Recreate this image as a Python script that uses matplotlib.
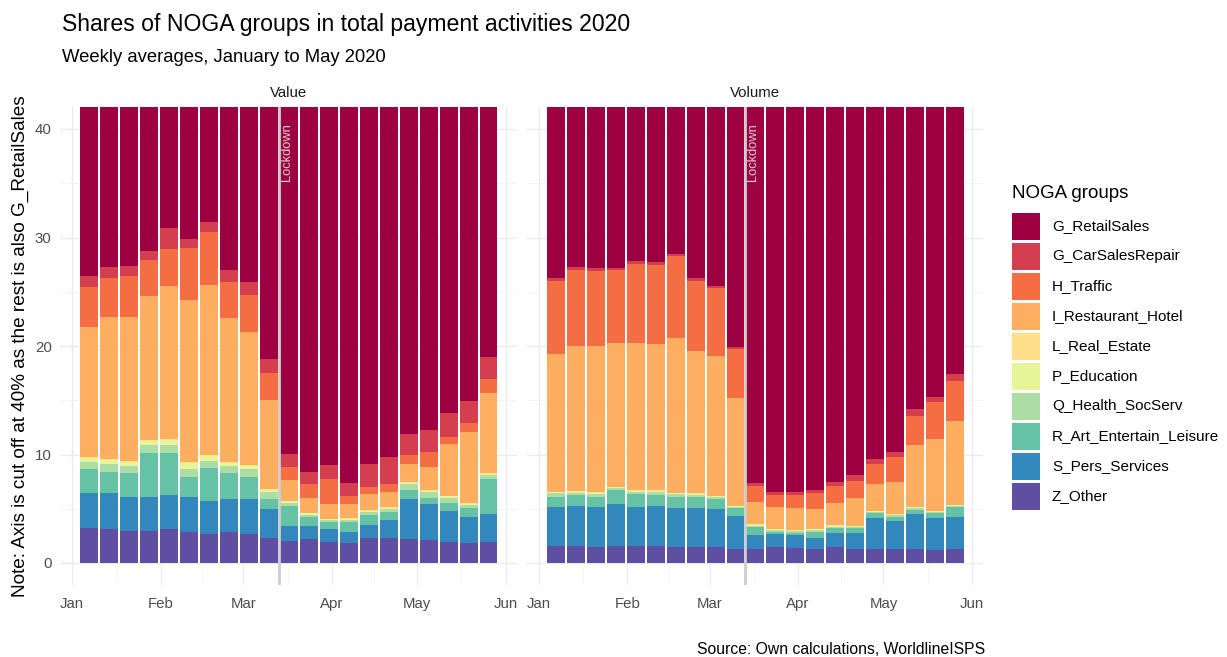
import numpy as np
import matplotlib
matplotlib.use("Agg")
import matplotlib.pyplot as plt
import matplotlib.dates as mdates
from matplotlib.patches import Rectangle
import datetime as dt

plt.rcParams['font.family'] = ['Liberation Sans', 'DejaVu Sans']

# ---------------- data ----------------
groups = ["G_RetailSales", "G_CarSalesRepair", "H_Traffic", "I_Restaurant_Hotel",
          "L_Real_Estate", "P_Education", "Q_Health_SocServ", "R_Art_Entertain_Leisure",
          "S_Pers_Services", "Z_Other"]
colors = ["#9E0142", "#D53E4F", "#F46D43", "#FDAE61", "#FEE08B",
          "#E6F598", "#ABDDA4", "#66C2A5", "#3288BD", "#5E4FA2"]

n_weeks = 21
weeks = [dt.date(2020, 1, 7) + dt.timedelta(days=7 * i) for i in range(n_weeks)]

# Value shares (%)
value_Z = [3.2, 3.1, 2.98, 2.98, 3.1, 2.88, 2.67, 2.88, 2.64, 2.27, 2.06,
           2.18, 1.96, 1.81, 2.28, 2.28, 2.18, 2.12, 1.96, 1.81, 1.96]
value_S = [3.28, 3.38, 3.13, 3.13, 3.14, 3.23, 3.0, 3.02, 3.26, 2.67, 1.35,
           1.23, 1.17, 1.08, 1.19, 1.68, 3.69, 3.29, 2.83, 2.46, 2.56]
value_R = [2.15, 1.91, 2.16, 3.99, 3.9, 1.84, 3.06, 2.37, 2.0, 0.96, 1.87,
           0.86, 0.62, 0.92, 0.95, 0.77, 0.86, 0.61, 0.71, 0.77, 3.19]
value_Q = [0.65, 0.71, 0.67, 0.76, 0.76, 0.71, 0.7, 0.67, 0.76, 0.6, 0.28,
           0.18, 0.21, 0.15, 0.28, 0.25, 0.52, 0.5, 0.52, 0.31, 0.4]
value_P = [0.36, 0.36, 0.39, 0.36, 0.4, 0.52, 0.45, 0.3, 0.24, 0.2, 0.13,
           0.14, 0.07, 0.14, 0.13, 0.13, 0.14, 0.13, 0.11, 0.1, 0.11]
value_L = [0.1, 0.1, 0.1, 0.1, 0.1, 0.1, 0.1, 0.1, 0.1, 0.1, 0.05,
           0.05, 0.05, 0.05, 0.05, 0.05, 0.05, 0.05, 0.05, 0.05, 0.05]
value_I = [12.04, 13.14, 13.27, 13.26, 14.1, 14.92, 15.62, 13.26, 12.3, 8.2, 1.91,
           1.38, 1.36, 1.29, 1.48, 1.38, 1.68, 2.18, 4.76, 6.6, 7.43]
value_H = [3.62, 3.6, 3.75, 3.32, 3.4, 4.8, 4.9, 3.3, 3.4, 2.5, 1.23,
           1.23, 2.27, 0.74, 0.62, 0.74, 0.83, 1.32, 0.7, 0.83, 1.23]
value_C = [1.05, 1.0, 0.95, 0.9, 2.0, 0.9, 0.95, 1.15, 1.2, 1.3, 1.17,
           1.17, 1.29, 1.22, 2.12, 2.52, 1.91, 2.06, 2.16, 2.03, 2.07]
value_G = [73.55, 72.7, 72.6, 71.2, 69.1, 70.1, 68.55, 72.95, 74.1, 81.2, 89.95,
           91.58, 91.0, 92.6, 90.9, 90.2, 88.14, 87.74, 86.2, 85.04, 81.0]

# Volume shares (%)
volume_Z = [1.57, 1.57, 1.45, 1.57, 1.57, 1.57, 1.45, 1.45, 1.45, 1.29, 1.26,
            1.5, 1.35, 1.26, 1.5, 1.28, 1.28, 1.28, 1.28, 1.2, 1.28]
volume_S = [3.62, 3.71, 3.74, 3.87, 3.62, 3.71, 3.59, 3.59, 3.49, 3.04, 1.32,
            1.17, 1.23, 1.02, 1.24, 1.52, 2.84, 2.62, 3.21, 2.92, 2.93]
volume_R = [0.92, 0.99, 0.92, 1.29, 1.17, 0.99, 1.07, 1.01, 0.96, 0.71, 0.71,
            0.22, 0.22, 0.61, 0.46, 0.4, 0.46, 0.37, 0.39, 0.46, 0.98]
volume_Q = [0.31, 0.21, 0.25, 0.15, 0.21, 0.3, 0.25, 0.22, 0.15, 0.15, 0.12,
            0.15, 0.12, 0.15, 0.15, 0.15, 0.15, 0.15, 0.16, 0.15, 0.08]
volume_P = [0.1, 0.09, 0.09, 0.11, 0.11, 0.11, 0.07, 0.1, 0.1, 0.05, 0.1,
            0.05, 0.04, 0.05, 0.1, 0.05, 0.05, 0.05, 0.1, 0.05, 0.06]
volume_L = [0.05, 0.05, 0.05, 0.05, 0.05, 0.05, 0.05, 0.05, 0.05, 0.04, 0.05,
            0.04, 0.04, 0.04, 0.05, 0.04, 0.04, 0.04, 0.05, 0.04, 0.04]
volume_I = [12.69, 13.38, 13.5, 13.21, 13.52, 13.42, 14.26, 13.12, 12.88, 9.96, 2.09,
            2.06, 2.04, 1.82, 2.06, 2.58, 2.43, 2.93, 5.68, 6.58, 7.72]
volume_H = [6.76, 7.05, 6.9, 6.8, 7.3, 7.3, 7.56, 6.48, 6.22, 4.46, 1.47,
            1.08, 1.23, 1.47, 1.54, 1.57, 1.87, 2.3, 2.68, 3.47, 3.71]
volume_C = [0.28, 0.25, 0.25, 0.15, 0.25, 0.25, 0.2, 0.23, 0.2, 0.2, 0.28,
            0.3, 0.3, 0.31, 0.4, 0.52, 0.46, 0.46, 0.61, 0.46, 0.62]
volume_G = [73.7, 72.7, 72.85, 72.8, 72.2, 72.3, 71.5, 73.75, 74.5, 80.1, 92.6,
            93.43, 93.43, 93.27, 92.5, 91.89, 90.42, 89.8, 85.84, 84.67, 82.58]

lockdown = dt.datetime(2020, 3, 13, 12)

# stacking order bottom -> top
value_series = [value_Z, value_S, value_R, value_Q, value_P, value_L,
                value_I, value_H, value_C, value_G]
volume_series = [volume_Z, volume_S, volume_R, volume_Q, volume_P, volume_L,
                 volume_I, volume_H, volume_C, volume_G]
stack_colors = colors[::-1]

panels = [("Value", value_series), ("Volume", volume_series)]

# ---------------- figure ----------------
W, H = 1227, 657
fig = plt.figure(figsize=(W / 100, H / 100), dpi=100)

def fx(px):
    return px / W

def fy(py):
    return 1 - py / H

ax_rects = [(60, 517), (527, 983)]
top_px, bot_px = 107.3, 584.7

x0 = mdates.date2num(dt.datetime(2020, 1, 1)) - 4.3
x1 = mdates.date2num(dt.datetime(2020, 1, 1)) + 156.0
month_starts = [dt.datetime(2020, m, 1) for m in range(1, 7)]
month_nums = mdates.date2num(month_starts)
minor_nums = (month_nums[:-1] + month_nums[1:]) / 2

xw = mdates.date2num(weeks)
bar_w = 6.3

for (name, series), (lpx, rpx) in zip(panels, ax_rects):
    ax = fig.add_axes([fx(lpx), fy(bot_px), fx(rpx - lpx), (bot_px - top_px) / H])
    bottom = np.zeros(n_weeks)
    for vals, col in zip(series, stack_colors):
        v = np.array(vals)
        ax.bar(xw, v, width=bar_w, bottom=bottom, color=col, linewidth=0, zorder=2)
        bottom += v
    ax.set_ylim(-2, 42)
    ax.set_xlim(x0, x1)
    ax.set_xticks(month_nums)
    ax.set_xticklabels(["Jan", "Feb", "Mar", "Apr", "May", "Jun"])
    ax.set_xticks(minor_nums, minor=True)
    ax.set_yticks([0, 10, 20, 30, 40])
    ax.set_yticks([5, 15, 25, 35], minor=True)
    if name == "Value":
        ax.set_yticklabels(["0", "10", "20", "30", "40"])
    else:
        ax.set_yticklabels([])
    ax.grid(True, which="major", color="#EBEBEB", linewidth=1.0, zorder=0)
    ax.grid(True, which="minor", color="#F3F3F3", linewidth=0.6, zorder=0)
    ax.set_axisbelow(True)
    for s in ax.spines.values():
        s.set_visible(False)
    ax.tick_params(which="both", length=0, labelsize=10.8, labelcolor="#4D4D4D")
    ax.tick_params(axis="x", pad=9)
    ax.tick_params(axis="y", pad=6)
    ax.axvline(lockdown, color="#CDCDCD", linewidth=2.0, zorder=3)
    ax.text(mdates.date2num(lockdown) + 0.6, 37.9, "Lockdown", rotation=90,
            ha="left", va="center", fontsize=9.3, color="#DCCCD2", zorder=4)
    ax.text(0.5, 1.0 + 14 / (bot_px - top_px), name, transform=ax.transAxes,
            ha="center", va="center", fontsize=10.8, color="#1A1A1A")

fig.text(fx(62), fy(25), "Shares of NOGA groups in total payment activities 2020",
         ha="left", va="center", fontsize=16.6, color="black")
fig.text(fx(62), fy(58), "Weekly averages, January to May 2020",
         ha="left", va="center", fontsize=13.3, color="black")
fig.text(fx(20), fy(346), "Note: Axis is cut off at 40% as the rest is also G_RetailSales",
         rotation=90, ha="center", va="center", fontsize=13.7, color="black")
fig.text(fx(985), fy(650), "Source: Own calculations, WorldlineISPS",
         ha="right", va="center", fontsize=11.3, color="black")

# legend (drawn in figure pixel coordinates)
fig.text(fx(1012), fy(194), "NOGA groups", ha="left", va="center",
         fontsize=13.5, color="black")
key_top0, key_pitch, key_h, key_w = 212.7, 30.0, 27.0, 28.0
for i, (g, c) in enumerate(zip(groups, colors)):
    ytop = key_top0 + i * key_pitch
    fig.add_artist(Rectangle((fx(1012), fy(ytop + key_h)), fx(key_w), key_h / H,
                             transform=fig.transFigure, facecolor=c,
                             edgecolor="none"))
    fig.text(fx(1052), fy(ytop + key_h / 2), g, ha="left", va="center",
             fontsize=11.0, color="black")

fig.savefig("out.png", dpi=100)
